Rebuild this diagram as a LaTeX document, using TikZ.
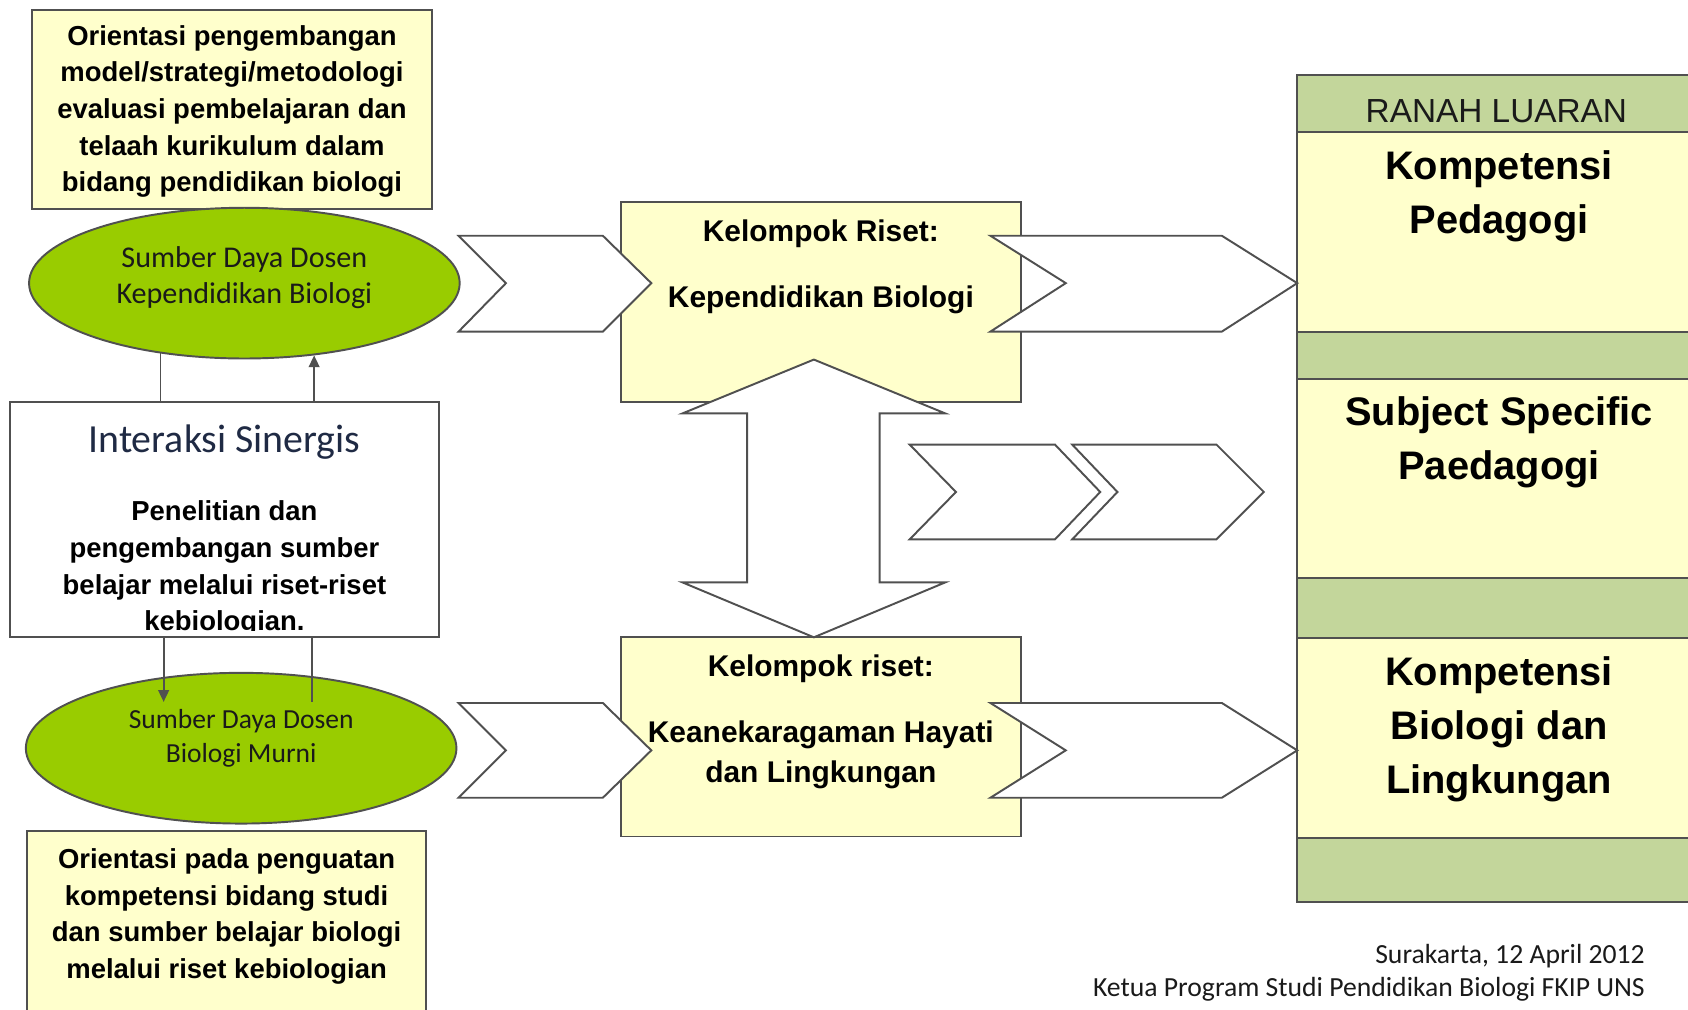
\documentclass[tikz,border=0pt]{standalone}
\usepackage{fontspec}
\setmainfont{Liberation Sans}
\newfontfamily\calib{Carlito}
\usetikzlibrary{positioning,arrows.meta,shapes.geometric}

\definecolor{boxyellow}{HTML}{FFFFCC}
\definecolor{bandgreen}{HTML}{C3D69B}
\definecolor{limegreen}{HTML}{99CC00}
\definecolor{edgegray}{HTML}{505050}
\definecolor{inkdark}{HTML}{1A1A1A}
\definecolor{inknavy}{HTML}{1F2A44}

\tikzset{
  box/.style={draw=edgegray, line width=1.8pt, inner sep=0pt},
  ybox/.style={box, fill=boxyellow},
  gbox/.style={box, fill=bandgreen},
  wbox/.style={box, fill=white},
  oval/.style={ellipse, draw=edgegray, line width=1.8pt, fill=limegreen,
    minimum width=400pt, minimum height=140pt, inner sep=0pt},
  ovaltxt/.style={font=\calib\fontsize{28}{33}\selectfont, text=inkdark, align=center, inner sep=0pt},
  bodytxt/.style={font=\bfseries\fontsize{25.5}{34}\selectfont, align=center, inner sep=0pt},
  grouptxt/.style={font=\bfseries\fontsize{27.8}{37}\selectfont, align=center, inner sep=0pt},
  outtxt/.style={font=\bfseries\fontsize{37}{50}\selectfont, align=center, inner sep=0pt},
  titletxt/.style={font=\calib\fontsize{37}{44}\selectfont, text=inknavy, inner sep=0pt},
  signtxt/.style={font=\calib\fontsize{25.7}{31}\selectfont, text=inkdark, inner sep=0pt},
  chev/.style={draw=edgegray, fill=white, line width=1.8pt, line join=miter},
  link/.style={draw=edgegray, line width=1.8pt},
}

\begin{document}
\begin{tikzpicture}[x=1pt,y=-1pt]
    % page frame
    \clip (0,0) rectangle (1568,938);

    % Left column: orientation boxes, lecturer ovals, synergy box
    \node[ybox, minimum width=371pt, minimum height=185pt] (orient1) at (215.5,101.5) {};
    \node[bodytxt] (orient1txt) at (215.5,103.5)
        {Orientasi pengembangan\\model/strategi/metodologi\\evaluasi pembelajaran dan\\telaah kurikulum dalam\\bidang pendidikan biologi};
    \node[oval] (ell1) at (227,263) {};
    \node[ovaltxt] (ell1txt) at (227,258) {Sumber Daya Dosen\\Kependidikan Biologi};

    \node[wbox, minimum width=399pt, minimum height=219pt] (inter) at (208.5,482.5) {};
    \node[titletxt, below=22pt of inter.north] (intertitle) {Interaksi Sinergis};
    \begin{scope}
        \clip ([yshift=7pt]inter.south west) rectangle (inter.north east);
        \node[bodytxt, below=93pt of inter.north] (intertxt)
            {Penelitian dan\\pengembangan sumber\\belajar melalui riset-riset\\kebiologian.};
    \end{scope}

    \node[oval] (ell2) at (224,695) {};
    \node[ovaltxt, font=\calib\fontsize{25.6}{32}\selectfont] (ell2txt) at (224,686) {Sumber Daya Dosen\\Biologi Murni};

    \node[ybox, minimum width=371pt, minimum height=200pt] (orient2) at (210.5,872) {};
    \node[bodytxt, below=17pt of orient2.north] (orient2txt)
        {Orientasi pada penguatan\\kompetensi bidang studi\\dan sumber belajar biologi\\melalui riset kebiologian};

    % links between ovals and synergy box
    \draw[link] (ell1.220.9) -- (inter.north -| ell1.220.9);
    \draw[link, -{Triangle[width=10pt,length=11pt]}] (inter.north -| ell1.-46.5) -- (ell1.-46.5);
    \coordinate (in1) at (152,652);
    \coordinate (in2) at (290,652);
    \draw[link, -{Triangle[width=10pt,length=11pt]}] (inter.south -| in1) -- (in1);
    \draw[link] (inter.south -| in2) -- (in2);

    % Middle column: research groups
    \node[ybox, minimum width=371pt, minimum height=185pt] (kr1) at (762.5,280.5) {};
    \node[ybox, minimum width=371pt, minimum height=185pt] (kr2) at (762.5,684.5) {};

    % Right column: outcome domains
    \node[gbox, minimum width=375pt, minimum height=53pt] (hdr) at (1392.5,96.5) {};
    \node[ybox, minimum width=375pt, minimum height=185pt] (out1) at (1392.5,215.5) {};
    \node[gbox, minimum width=375pt, minimum height=44pt] (gap1) at (1392.5,330) {};
    \node[ybox, minimum width=375pt, minimum height=185pt] (out2) at (1392.5,444.5) {};
    \node[gbox, minimum width=375pt, minimum height=56pt] (gap2) at (1392.5,565) {};
    \node[ybox, minimum width=375pt, minimum height=185pt] (out3) at (1392.5,685.5) {};
    \node[gbox, minimum width=375pt, minimum height=60pt] (gap3) at (1392.5,808) {};

    % chevrons into the research groups
    \filldraw[chev] (426,219) -- (560,219) -- (605,263) -- (560,308) -- (426,308) -- (470,263) -- cycle;
    \filldraw[chev] (426,653) -- (560,653) -- (605,697) -- (560,741) -- (426,741) -- (470,697) -- cycle;
    % chevrons towards the outcomes
    \filldraw[chev] (920,219) -- (1135,219) -- (1205,263) -- (1135,308) -- (920,308) -- (990,263) -- cycle;
    \filldraw[chev] (920,653) -- (1135,653) -- (1205,697) -- (1135,741) -- (920,741) -- (990,697) -- cycle;
    % middle pair
    \filldraw[chev] (845,413) -- (980,413) -- (1022,457) -- (980,501) -- (845,501) -- (888,457) -- cycle;
    \filldraw[chev] (996,413) -- (1130,413) -- (1174,457) -- (1130,501) -- (996,501) -- (1038,457) -- cycle;
    % two-way block arrow between the groups
    \filldraw[chev] (756,334) -- (878,384) -- (817,384) -- (817,541) -- (878,541) -- (756,592)
        -- (634,541) -- (694,541) -- (694,384) -- (634,384) -- cycle;

    % texts of groups and outcomes
    \node[grouptxt, below=17pt of kr1.north] (kr1txt) {Kelompok Riset:\\[24pt]Kependidikan Biologi};
    \node[grouptxt, below=17pt of kr2.north] (kr2txt) {Kelompok riset:\\[24pt]Keanekaragaman Hayati\\dan Lingkungan};
    \node[font=\fontsize{31}{37}\selectfont, text=inkdark, inner sep=0pt, anchor=base] (hdrtxt) at (1390,114) {RANAH LUARAN};
    \node[outtxt, below=18pt of out1.north] (out1txt) {Kompetensi\\Pedagogi};
    \node[outtxt, below=17pt of out2.north] (out2txt) {Subject Specific\\Paedagogi};
    \node[outtxt, below=18pt of out3.north] (out3txt) {Kompetensi\\Biologi dan\\Lingkungan};

    % signature
    \node[signtxt, anchor=base east] (place) at (1528,895) {Surakarta, 12 April 2012};
    \node[signtxt, anchor=base east] (sign) at (1528,926) {Ketua Program Studi Pendidikan Biologi FKIP UNS};
\end{tikzpicture}
\end{document}
